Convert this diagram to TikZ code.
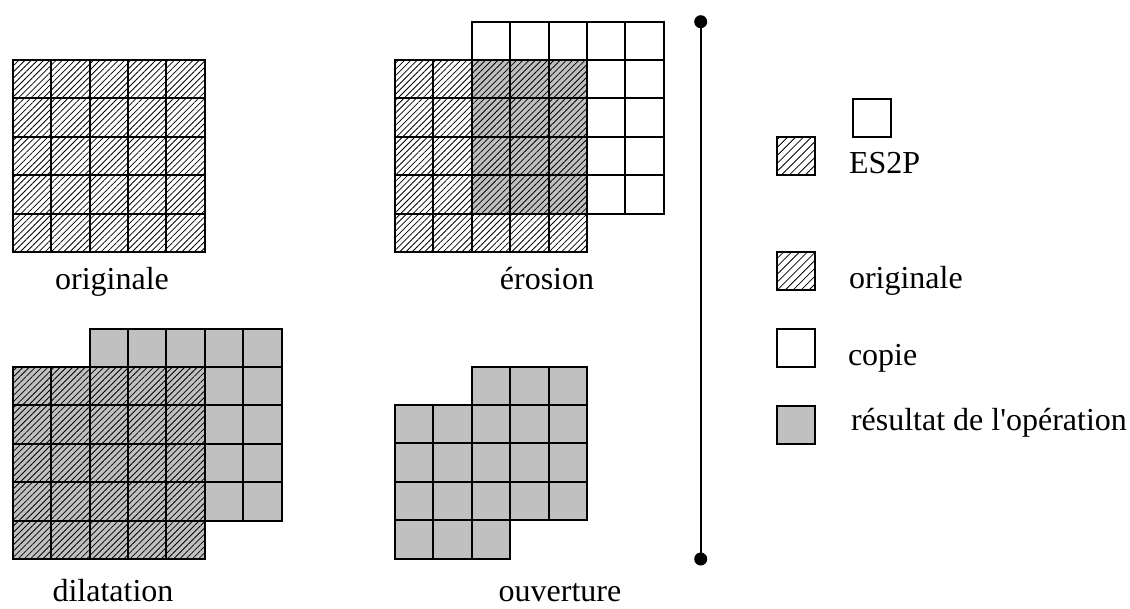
\documentclass[tikz,border=0pt]{standalone}
\usepackage{fontspec}
\setmainfont{Liberation Serif}
\usetikzlibrary{patterns.meta}

\definecolor{resgray}{RGB}{192,192,192}
\tikzstyle{plan}=[x=1pt,y=-1pt,line width=2pt]
\tikzstyle{hatch}=[pattern={Lines[angle=45,distance=4.4pt,line width=0.8pt]}]
\tikzstyle{keyhatch}=[pattern={Lines[angle=45,distance=5.6pt,line width=0.8pt]}]
\tikzstyle{hatchres}=[preaction={fill=resgray},hatch]
\tikzstyle{result}=[fill=resgray]
\tikzstyle{copycell}=[fill=white]
\tikzstyle{caption}=[font=\fontsize{32}{38}\selectfont,inner sep=0pt]

\newcommand{\cellsize}{38.4}

\begin{document}
\begin{tikzpicture}[style=plan]
\useasboundingbox (0,0) rectangle (1130,608);

% originale
\foreach \i in {0,...,4}{% original cells
    \foreach \j in {0,...,4}{
        \draw[hatch] ({12.7+\i*\cellsize},{60+\j*\cellsize}) rectangle ++(\cellsize,\cellsize);
    }
}
\node[caption,anchor=base] (orig) at (112,289) {originale};

% erosion
\foreach \i in {2,...,6}{% shifted copy
    \foreach \j in {-1,...,3}{
        \draw[copycell] ({395+\i*\cellsize},{60+\j*\cellsize}) rectangle ++(\cellsize,\cellsize);
    }
}
\foreach \i in {2,...,4}{% result
    \foreach \j in {0,...,3}{
        \fill[result] ({395+\i*\cellsize},{60+\j*\cellsize}) rectangle ++(\cellsize,\cellsize);
    }
}
\foreach \i in {0,...,4}{% original cells
    \foreach \j in {0,...,4}{
        \draw[hatch] ({395+\i*\cellsize},{60+\j*\cellsize}) rectangle ++(\cellsize,\cellsize);
    }
}
\node[caption,anchor=base] (eros) at (547,289) {érosion};

% dilatation
\foreach \i in {2,...,6}{% shifted copy
    \foreach \j in {-1,...,3}{
        \draw[result] ({12.7+\i*\cellsize},{367+\j*\cellsize}) rectangle ++(\cellsize,\cellsize);
    }
}
\foreach \i in {0,...,4}{% original cells
    \foreach \j in {0,...,4}{
        \draw[hatchres] ({12.7+\i*\cellsize},{367+\j*\cellsize}) rectangle ++(\cellsize,\cellsize);
    }
}
\node[caption,anchor=base] (dil) at (113,601) {dilatation};

% ouverture
\foreach \i/\j in {2/-1,3/-1,4/-1,0/0,1/0,2/0,3/0,4/0,0/1,1/1,2/1,3/1,4/1,0/2,1/2,2/2,3/2,4/2,0/3,1/3,2/3}{% result
    \draw[result] ({395+\i*\cellsize},{405+\j*\cellsize}) rectangle ++(\cellsize,\cellsize);
}
\node[caption,anchor=base] (ouv) at (560,601) {ouverture};

% separator
\coordinate (top) at (700.7,21.7);
\coordinate (bot) at (700.7,559);
\draw (top) -- (bot);
\foreach \point in {(top),(bot)}{% end dots
    \fill \point circle (6.5pt);
}

% legend
\draw[keyhatch] (776.5,137) rectangle ++(\cellsize,\cellsize);
\draw[copycell] (853,98.5) rectangle ++(\cellsize,\cellsize);
\node[caption,anchor=base west] (lges) at (848,173) {ES2P};
\draw[keyhatch] (776.5,252) rectangle ++(\cellsize,\cellsize);
\node[caption,anchor=base west] (lgorig) at (848,288.5) {originale};
\draw[copycell] (776.5,328.5) rectangle ++(\cellsize,\cellsize);
\node[caption,anchor=base west] (lgcopy) at (847,365) {copie};
\draw[result] (776.5,405.5) rectangle ++(\cellsize,\cellsize);
\node[caption,anchor=base west] (lgres) at (850,430) {résultat de l\textquotesingle opération};

\end{tikzpicture}
\end{document}
